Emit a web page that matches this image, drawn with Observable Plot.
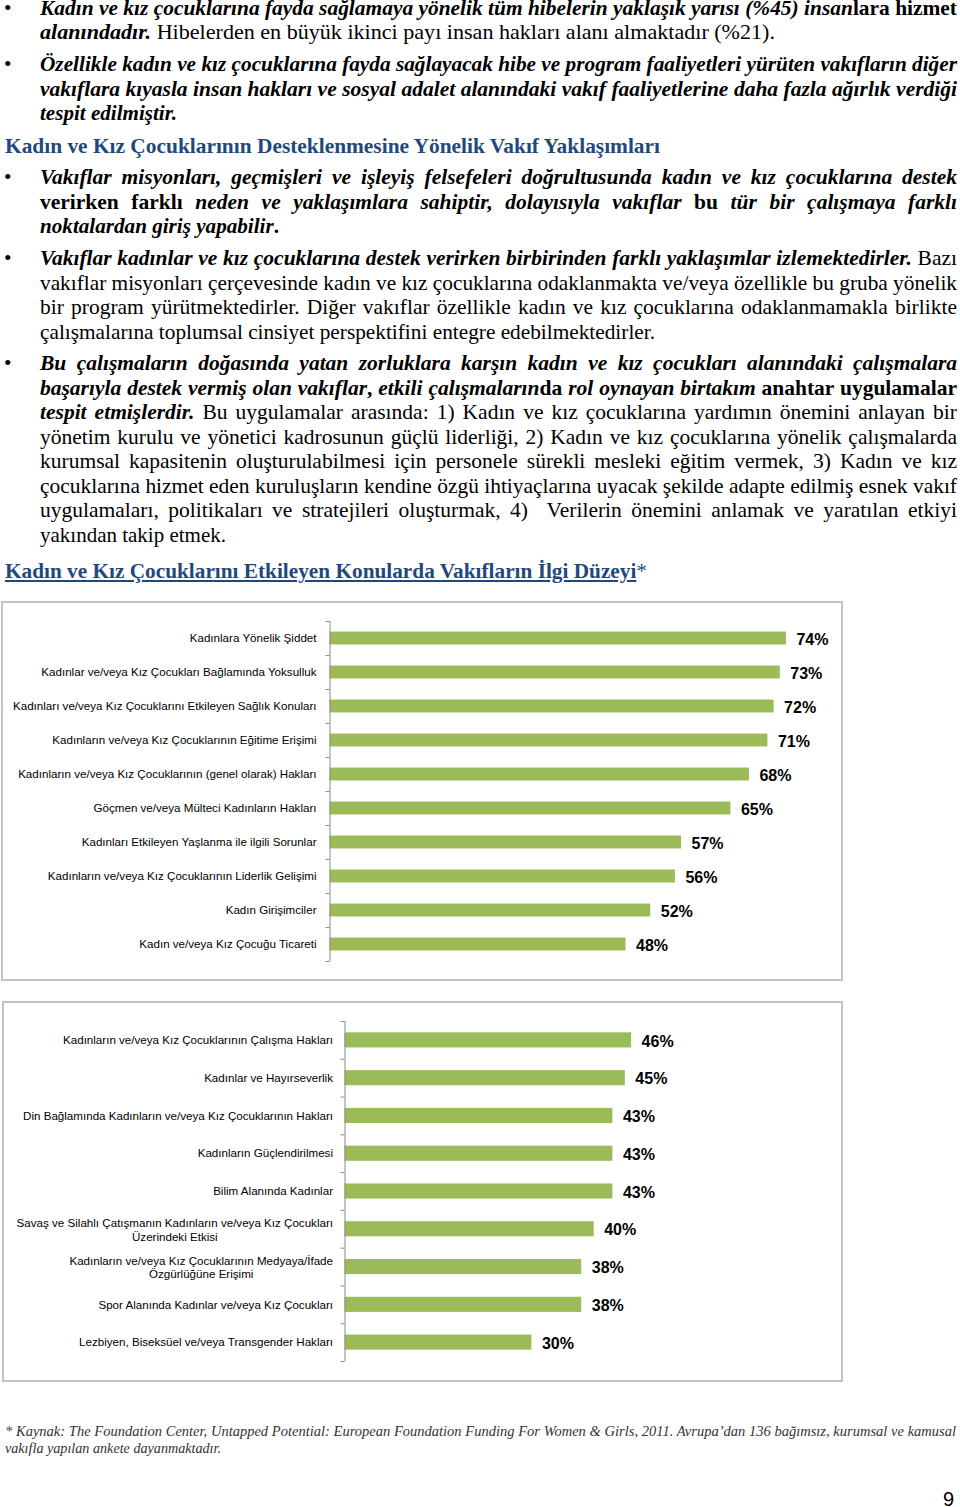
<!DOCTYPE html>
<html>
<head>
<meta charset="utf-8">
<script src="https://cdn.jsdelivr.net/npm/d3@7"></script>
<script src="https://cdn.jsdelivr.net/npm/@observablehq/plot@0.6"></script>
<style>
  html, body { margin: 0; padding: 0; background: #fff; }
  #page { position: relative; width: 960px; height: 1507px; overflow: hidden; background: #fff; font-family: "Liberation Serif", "Times New Roman", serif; color: #000; }
  .ln { position: absolute; white-space: pre; transform-origin: left center; }
  .bi { font-weight: bold; font-style: italic; }
  .b { font-weight: bold; }
  .i { font-style: italic; }
  .blue { color: #1f497d; font-weight: bold; }
  .u { text-decoration: underline; text-decoration-thickness: 1.5px; text-underline-offset: 2px; }
  .box { position: absolute; border: 2px solid #c3c3c3; box-sizing: border-box; }
  .chart { position: absolute; }
  .chart svg { background: transparent; overflow: visible; }
</style>
</head>
<body>
<div id="page"></div>
<script>
// ---------------- chart data ----------------
const topics1 = [
  "Kadınlara Yönelik Şiddet",
  "Kadınlar ve/veya Kız Çocukları Bağlamında Yoksulluk",
  "Kadınları ve/veya Kız Çocuklarını Etkileyen Sağlık Konuları",
  "Kadınların ve/veya Kız Çocuklarının Eğitime Erişimi",
  "Kadınların ve/veya Kız Çocuklarının (genel olarak) Hakları",
  "Göçmen ve/veya Mülteci Kadınların Hakları",
  "Kadınları Etkileyen Yaşlanma ile ilgili Sorunlar",
  "Kadınların ve/veya Kız Çocuklarının Liderlik Gelişimi",
  "Kadın Girişimciler",
  "Kadın ve/veya Kız Çocuğu Ticareti"
];
const shares1 = [74, 73, 72, 71, 68, 65, 57, 56, 52, 48];

const topics2 = [
  "Kadınların ve/veya Kız Çocuklarının Çalışma Hakları",
  "Kadınlar ve Hayırseverlik",
  "Din Bağlamında Kadınların ve/veya Kız Çocuklarının Hakları",
  "Kadınların Güçlendirilmesi",
  "Bilim Alanında Kadınlar",
  "Savaş ve Silahlı Çatışmanın Kadınların ve/veya Kız Çocukları\nÜzerindeki Etkisi",
  "Kadınların ve/veya Kız Çocuklarının Medyaya/İfade\nÖzgürlüğüne Erişimi",
  "Spor Alanında Kadınlar ve/veya Kız Çocukları",
  "Lezbiyen, Biseksüel ve/veya Transgender Hakları"
];
const shares2 = [46, 45, 43, 43, 43, 40, 38, 38, 30];

// ---------------- page text ----------------
const page = document.getElementById("page");
const F = 21.5;
const SHIFT = 3.5;

function addLine(html, baseline, left, right, opts = {}) {
  const fs = opts.fs || F;
  const div = document.createElement("div");
  div.className = "ln " + (opts.cls || "");
  div.style.left = left + "px";
  div.style.top = (baseline + (opts.shift ?? SHIFT) - 0.8375 * fs) + "px";
  div.style.fontSize = fs + "px";
  div.style.lineHeight = fs + "px";
  if (opts.color) div.style.color = opts.color;
  div.innerHTML = html;
  page.appendChild(div);
  const w = div.getBoundingClientRect().width;
  const W = right - left;
  const n = (div.textContent.match(/ /g) || []).length;
  if (opts.justify && w < W && n > 0) {
    div.style.wordSpacing = ((W - w) / n) + "px";
  } else {
    div.style.transform = `scaleX(${W / w})`;
  }
}
function bullet(baseline) {
  const div = document.createElement("div");
  div.className = "ln";
  div.style.left = "4px";
  div.style.top = (baseline + SHIFT - 0.8375 * F) + "px";
  div.style.fontSize = F + "px";
  div.style.lineHeight = F + "px";
  div.textContent = "•";
  page.appendChild(div);
}

const L = 40, R = 957;
const J = {justify: true};
bullet(12);
addLine('<span class="bi">Kadın ve kız çocuklarına fayda sağlamaya yönelik tüm hibelerin yaklaşık yarısı (%45) insan</span><span class="b">lara hizmet</span>', 12, L, R, J);
addLine('<span class="bi">alanındadır.</span> Hibelerden en büyük ikinci payı insan hakları alanı almaktadır (%21).', 36.5, L, 775);
bullet(69);
addLine('<span class="bi">Özellikle kadın ve kız çocuklarına fayda sağlayacak hibe ve program faaliyetleri yürüten vakıfların diğer</span>', 69, L, R, J);
addLine('<span class="bi">vakıflara kıyasla insan hakları ve sosyal adalet alanındaki vakıf faaliyetlerine daha fazla ağırlık verdiği</span>', 93.5, L, R, J);
addLine('<span class="bi">tespit edilmiştir.</span>', 118, L, 177);

addLine('<span class="blue">Kadın ve Kız Çocuklarının Desteklenmesine Yönelik Vakıf Yaklaşımları</span>', 150.5, 5, 660);

bullet(182);
addLine('<span class="bi">Vakıflar misyonları, geçmişleri ve işleyiş felsefeleri doğrultusunda kadın ve kız çocuklarına destek</span>', 182, L, R, J);
addLine('<span class="b">verirken farklı </span><span class="bi">neden ve yaklaşımlara sahiptir, dolayısıyla vakıflar</span><span class="b"> bu </span><span class="bi">tür bir çalışmaya farklı</span>', 206.5, L, R, J);
addLine('<span class="bi">noktalardan giriş yapabilir</span><span class="b">.</span>', 231, L, 279);

bullet(263);
addLine('<span class="bi">Vakıflar kadınlar ve kız çocuklarına destek verirken birbirinden farklı yaklaşımlar izlemektedirler.</span> Bazı', 263, L, R, J);
addLine('vakıflar misyonları çerçevesinde kadın ve kız çocuklarına odaklanmakta ve/veya özellikle bu gruba yönelik', 287.5, L, R, J);
addLine('bir program yürütmektedirler. Diğer vakıflar özellikle kadın ve kız çocuklarına odaklanmamakla birlikte', 312, L, R, J);
addLine('çalışmalarına toplumsal cinsiyet perspektifini entegre edebilmektedirler.', 336.5, L, 655);

bullet(368);
addLine('<span class="bi">Bu çalışmaların doğasında yatan zorluklara karşın kadın ve kız çocukları alanındaki çalışmalara</span>', 368, L, R, J);
addLine('<span class="bi">başarıyla destek vermiş olan vakıflar</span><span class="b">,</span><span class="bi"> etkili çalışmaların</span><span class="b">da</span><span class="bi"> rol oynayan birtakım</span><span class="b"> anahtar uygulamalar</span>', 392.5, L, R, J);
addLine('<span class="bi">tespit etmişlerdir.</span> Bu uygulamalar arasında: 1) Kadın ve kız çocuklarına yardımın önemini anlayan bir', 417, L, R, J);
addLine('yönetim kurulu ve yönetici kadrosunun güçlü liderliği, 2) Kadın ve kız çocuklarına yönelik çalışmalarda', 441.5, L, R, J);
addLine('kurumsal kapasitenin oluşturulabilmesi için personele sürekli mesleki eğitim vermek, 3) Kadın ve kız', 466, L, R, J);
addLine('çocuklarına hizmet eden kuruluşların kendine özgü ihtiyaçlarına uyacak şekilde adapte edilmiş esnek vakıf', 490.5, L, R, J);
addLine('uygulamaları, politikaları ve stratejileri oluşturmak, 4)  Verilerin önemini anlamak ve yaratılan etkiyi', 515, L, R, J);
addLine('yakından takip etmek.', 539.5, L, 226);

addLine('<span class="blue u">Kadın ve Kız Çocuklarını Etkileyen Konularda Vakıfların İlgi Düzeyi</span><span style="color:#1f497d">*</span>', 575.5, 5, 647);

addLine('<span style="color:#1f497d">*</span> Kaynak: The Foundation Center, Untapped Potential: European Foundation Funding For Women &amp; Girls, 2011. Avrupa’dan 136 bağımsız, kurumsal ve kamusal', 1435.5, 5, 956, {fs: 14.5, justify: true, cls: "i", color: "#333", shift: 0.5});
addLine('vakıfla yapılan ankete dayanmaktadır.', 1452.5, 5, 221, {fs: 14.5, cls: "i", color: "#333", shift: 0.5});

const num = document.createElement("div");
num.className = "ln";
num.style.cssText += "left:943px;top:1489px;font:20px 'Liberation Sans',Arial,sans-serif;line-height:20px;";
num.textContent = "9";
page.appendChild(num);

// ---------------- charts ----------------
const LABEL_FS = 11.6;
const ctx = document.createElement("canvas").getContext("2d");
ctx.font = LABEL_FS + "px 'Liberation Sans'";

function barChart(cats, vals, o) {
  const data = cats.map((c, i) => ({cat: c, v: vals[i]}));
  const n = cats.length;
  const step = (o.height - o.marginTop - o.marginBottom) / n;
  const pxPerUnit = (o.width - o.marginLeft - o.marginRight) / o.xMax;
  const single = data.filter(d => !d.cat.includes("\n"));
  const multi = data.filter(d => d.cat.includes("\n"));
  const font = "Liberation Sans, Arial, sans-serif";
  const marks = [
    Plot.barX(data, {x: "v", y: "cat", fill: "#9bbb59"}),
    Plot.ruleX([0], {stroke: "#8a8a8a", strokeWidth: 1}),
    Plot.ruleY(data, {y: "cat", x1: -4 / pxPerUnit, x2: 0, dy: -step / 2, stroke: "#8a8a8a"}),
    Plot.ruleY(data.slice(-1), {y: "cat", x1: -4 / pxPerUnit, x2: 0, dy: step / 2, stroke: "#8a8a8a"}),
    Plot.text(single, {x: 0, y: "cat", text: "cat", textAnchor: "end", dx: -o.labelGap, fontSize: LABEL_FS, fontFamily: font, fill: "#000"}),
    Plot.text(data, {x: "v", y: "cat", text: d => d.v + "%", textAnchor: "start", dx: 10, dy: 1, fontSize: 16, fontWeight: "bold", fontFamily: font, fill: "#000"})
  ];
  for (const d of multi) {
    const w = Math.max(...d.cat.split("\n").map(s => ctx.measureText(s).width));
    marks.push(Plot.text([d], {x: 0, y: "cat", text: "cat", textAnchor: "middle", lineHeight: 1.2, dx: -(o.labelGap + w / 2), fontSize: LABEL_FS, fontFamily: font, fill: "#000"}));
  }
  return Plot.plot({
    width: o.width, height: o.height,
    marginLeft: o.marginLeft, marginRight: o.marginRight,
    marginTop: o.marginTop, marginBottom: o.marginBottom,
    x: {domain: [0, o.xMax], axis: null},
    y: {domain: cats, axis: null, paddingInner: o.pad, paddingOuter: o.pad / 2, round: false},
    style: {background: "transparent", overflow: "visible"},
    marks
  });
}

function place(el, left, top) {
  const wrap = document.createElement("div");
  wrap.className = "chart";
  wrap.style.left = left + "px";
  wrap.style.top = top + "px";
  wrap.appendChild(el);
  page.appendChild(wrap);
}
function box(l, t, r, b) {
  const d = document.createElement("div");
  d.className = "box";
  d.style.left = l + "px"; d.style.top = t + "px";
  d.style.width = (r - l) + "px"; d.style.height = (b - t) + "px";
  page.appendChild(d);
}

box(1, 601, 843, 981);
box(2, 1001, 843, 1382);

place(barChart(topics1, shares1, {
  width: 842, height: 382, marginLeft: 329.5, marginRight: 842 - (329.5 + 80 * 6.168),
  marginTop: 21, marginBottom: 21, xMax: 80, pad: 0.62, labelGap: 13.5
}), 0, 600);

place(barChart(topics2, shares2, {
  width: 842, height: 382, marginLeft: 344.5, marginRight: 842 - (344.5 + 75 * 6.23),
  marginTop: 21, marginBottom: 21, xMax: 75, pad: 0.6, labelGap: 12
}), 0, 1000);
</script>
</body>
</html>
